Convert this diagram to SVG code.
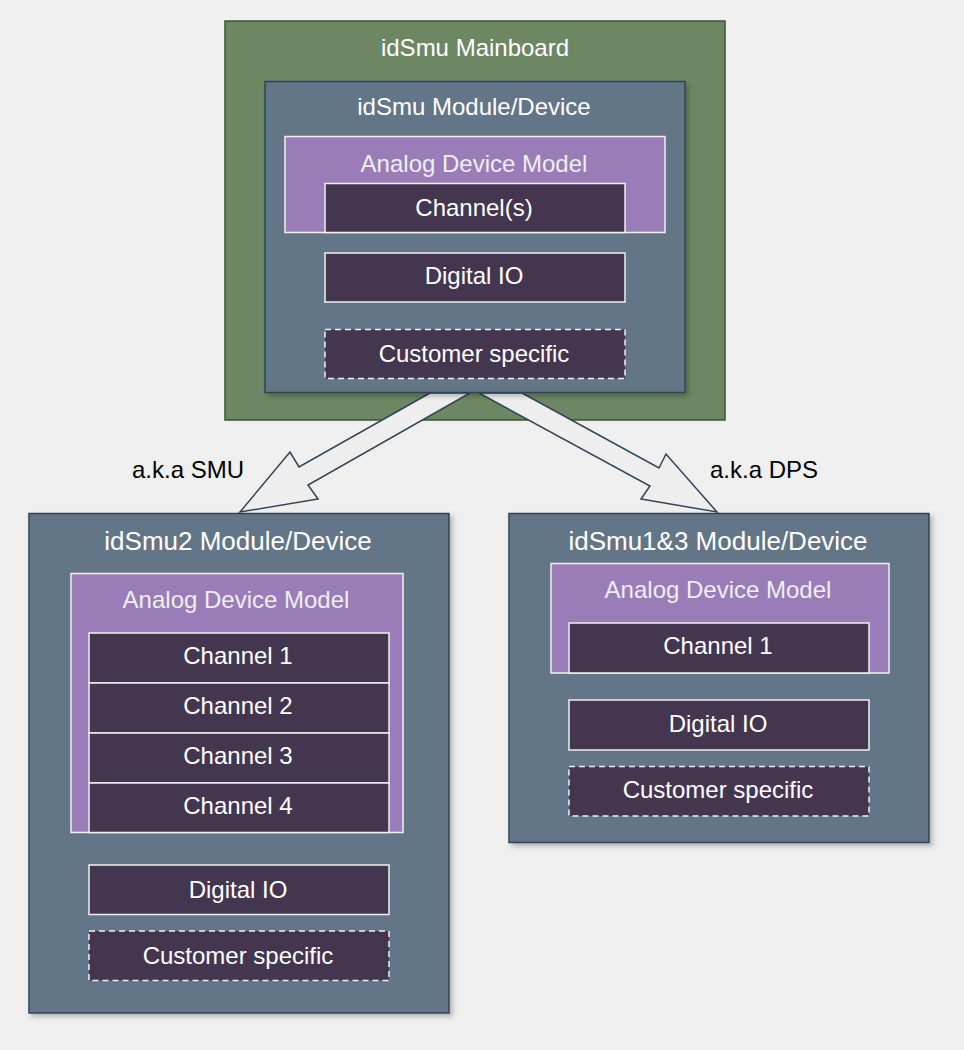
<svg xmlns="http://www.w3.org/2000/svg" width="964" height="1050" viewBox="0 0 964 1050">
<defs>
<filter id="sh" x="-10%" y="-10%" width="125%" height="125%">
<feDropShadow dx="3" dy="3" stdDeviation="2.5" flood-color="#000" flood-opacity="0.25"/>
</filter>
</defs>
<style>
text{font-family:"Liberation Sans",Arial,Helvetica,sans-serif;font-size:24px;text-anchor:middle;fill:#ffffff}
.big{font-size:26px}
.board{fill:#6d8764;stroke:#3a5431;stroke-width:1.5}
.mod{fill:#647687;stroke:#314354;stroke-width:1.5}
.adm{fill:#9a7db8;stroke:#f0f0f0;stroke-width:1.5}
.blk{fill:#45364f;stroke:#f0f0f0;stroke-width:1.5}
.dash{fill:#45364f;stroke:#f0f0f0;stroke-width:1.5;stroke-dasharray:6 4}
.soft{fill:#eeeeee}
.lbl{fill:#000000}
.arr{fill:#eeeeee;stroke:#314354;stroke-width:1.5;stroke-linejoin:miter}
</style>
<rect width="964" height="1050" fill="#efefef"/>
<g id="mainboard">
<rect class="board" x="225" y="21" width="500" height="399"/>
<text x="475" y="56">idSmu Mainboard</text>
</g>
<g id="connectors">
<path class="arr" d="M430,393 L299,467 L290,452 L240,512 L318,499 L308,485 L470,393 Z"/>
<path class="arr" d="M522,393 L659,468 L666,454 L717,512 L641,499 L650,486 L479,393 Z"/>
<text class="lbl" x="188" y="478">a.k.a SMU</text>
<text class="lbl" x="764" y="478">a.k.a DPS</text>
</g>
<g id="idsmu-module">
<rect class="mod" x="265" y="81.5" width="420" height="311" filter="url(#sh)"/>
<text x="474" y="115">idSmu Module/Device</text>
<rect class="adm" x="285" y="136.5" width="380" height="96"/>
<text class="soft" x="474" y="172">Analog Device Model</text>
<rect class="blk" x="325" y="183.5" width="300" height="49"/>
<text x="474" y="216">Channel(s)</text>
<rect class="blk" x="325" y="253" width="300" height="49"/>
<text x="474" y="284">Digital IO</text>
<rect class="dash" x="325" y="329.5" width="300" height="49"/>
<text x="474" y="362">Customer specific</text>
</g>
<g id="idsmu2-module">
<rect class="mod" x="29" y="513.5" width="420" height="499.5" filter="url(#sh)"/>
<text class="big" x="238" y="549.5">idSmu2 Module/Device</text>
<rect class="adm" x="71" y="573.5" width="332" height="259"/>
<text class="soft" x="236" y="608">Analog Device Model</text>
<rect class="blk" x="89" y="633" width="300" height="50"/>
<text x="238" y="664">Channel 1</text>
<rect class="blk" x="89" y="683" width="300" height="50"/>
<text x="238" y="714">Channel 2</text>
<rect class="blk" x="89" y="733" width="300" height="50"/>
<text x="238" y="764">Channel 3</text>
<rect class="blk" x="89" y="783" width="300" height="49.5"/>
<text x="238" y="814">Channel 4</text>
<rect class="blk" x="89" y="865" width="300" height="49.5"/>
<text x="238" y="897.5">Digital IO</text>
<rect class="dash" x="89" y="931" width="300" height="49.5"/>
<text x="238" y="963.5">Customer specific</text>
</g>
<g id="idsmu13-module">
<rect class="mod" x="509" y="513.5" width="420" height="329" filter="url(#sh)"/>
<text class="big" x="718" y="549.5">idSmu1&amp;3 Module/Device</text>
<rect class="adm" x="551" y="563.5" width="338" height="109.5"/>
<text class="soft" x="718" y="598">Analog Device Model</text>
<rect class="blk" x="569" y="623" width="300" height="50"/>
<text x="718" y="654">Channel 1</text>
<rect class="blk" x="569" y="700" width="300" height="50"/>
<text x="718" y="732">Digital IO</text>
<rect class="dash" x="569" y="766.5" width="300" height="49.5"/>
<text x="718" y="798">Customer specific</text>
</g>
</svg>
